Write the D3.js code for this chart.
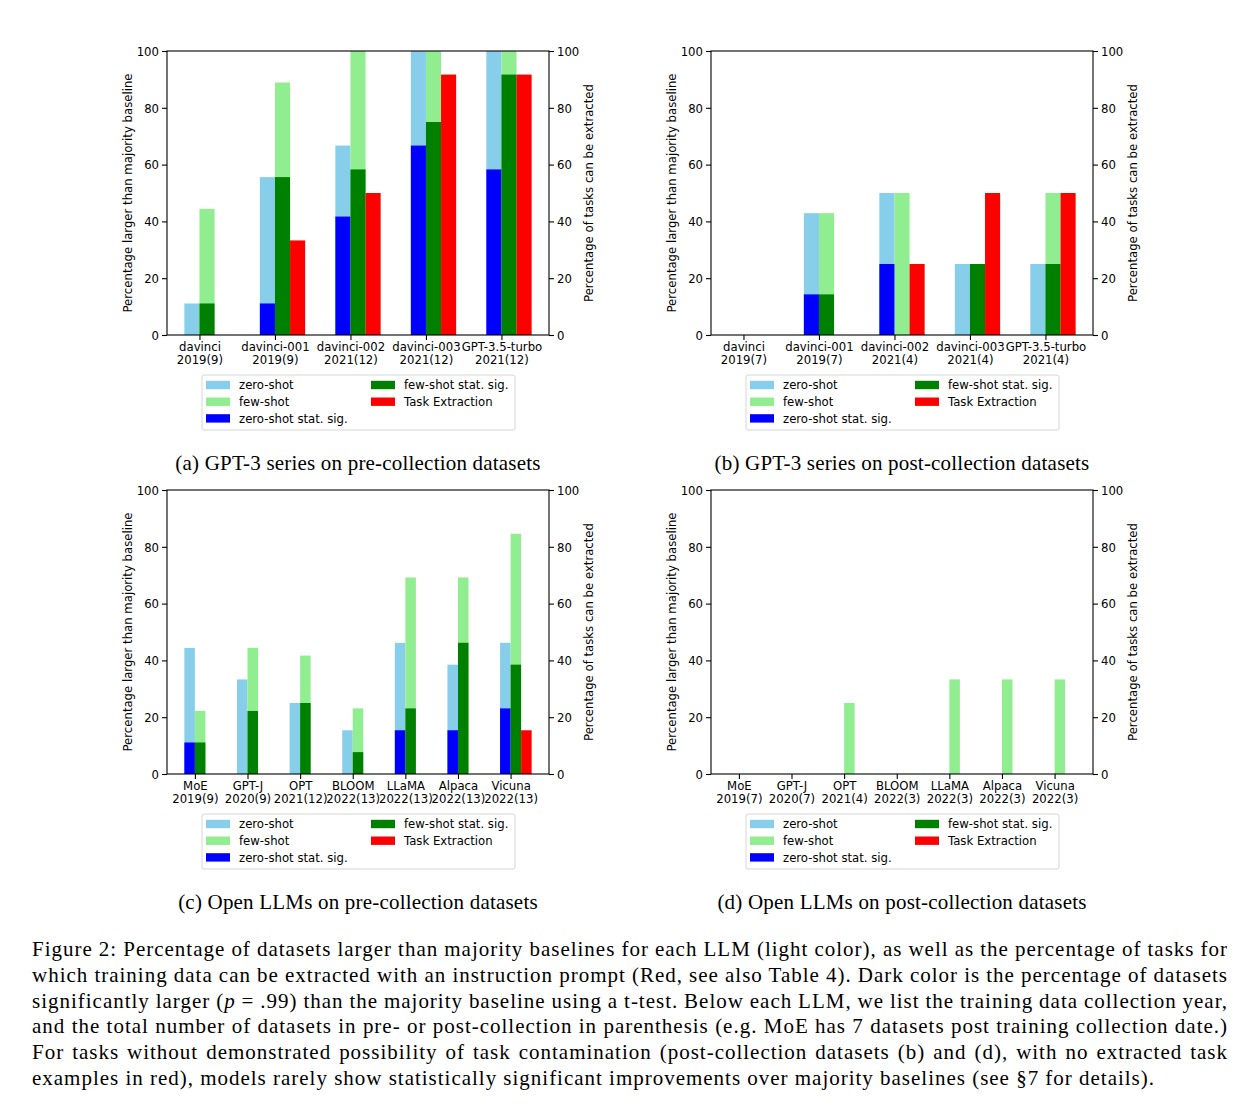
<!DOCTYPE html>
<html>
<head>
<meta charset="utf-8">
<script src="https://cdn.jsdelivr.net/npm/d3@7"></script>
<style>
  body { margin: 0; background: #fff; }
  svg { display: block; }
  .tick text { font-family: 'DejaVu Sans', sans-serif; font-size: 11.7px; fill: #000; }
</style>
</head>
<body>
<svg id="fig" width="1254" height="1116"></svg>
<script>
// models and collection year (number of datasets)
const gptModels = ['davinci', 'davinci-001', 'davinci-002', 'davinci-003', 'GPT-3.5-turbo'];
const gptPreYears = ['2019(9)', '2019(9)', '2021(12)', '2021(12)', '2021(12)'];
const gptPostYears = ['2019(7)', '2019(7)', '2021(4)', '2021(4)', '2021(4)'];
const openModels = ['MoE', 'GPT-J', 'OPT', 'BLOOM', 'LLaMA', 'Alpaca', 'Vicuna'];
const openPreYears = ['2019(9)', '2020(9)', '2021(12)', '2022(13)', '2022(13)', '2022(13)', '2022(13)'];
const openPostYears = ['2019(7)', '2020(7)', '2021(4)', '2022(3)', '2022(3)', '2022(3)', '2022(3)'];

// (a) GPT-3 pre-collection
const aZero = [11.1, 55.6, 66.7, 100, 100];
const aFew = [44.4, 88.9, 100, 100, 100];
const aZeroSig = [0, 11.1, 41.7, 66.7, 58.3];
const aFewSig = [11.1, 55.6, 58.3, 75.0, 91.7];
const aTask = [0, 33.3, 50, 91.7, 91.7];

// (b) GPT-3 post-collection
const bZero = [0, 42.9, 50, 25, 25];
const bFew = [0, 42.9, 50, 25, 50];
const bZeroSig = [0, 14.3, 25, 0, 0];
const bFewSig = [0, 14.3, 0, 25, 25];
const bTask = [0, 0, 25, 50, 50];

// (c) open LLMs pre-collection
const cZero = [44.4, 33.3, 25, 15.4, 46.2, 38.5, 46.2];
const cFew = [22.2, 44.4, 41.7, 23.1, 69.2, 69.2, 84.6];
const cZeroSig = [11.1, 0, 0, 0, 15.4, 15.4, 23.1];
const cFewSig = [11.1, 22.2, 25, 7.7, 23.1, 46.2, 38.5];
const cTask = [0, 0, 0, 0, 0, 0, 15.4];

// (d) open LLMs post-collection
const dZero = [0, 0, 0, 0, 0, 0, 0];
const dFew = [0, 0, 25, 0, 33.3, 33.3, 33.3];
const dZeroSig = [0, 0, 0, 0, 0, 0, 0];
const dFewSig = [0, 0, 0, 0, 0, 0, 0];
const dTask = [0, 0, 0, 0, 0, 0, 0];

const yTicks = [0, 20, 40, 60, 80, 100];
const legendItems = [
  ['zero-shot', '#87ceeb'], ['few-shot', '#90ee90'], ['zero-shot stat. sig.', '#0000ff'],
  ['few-shot stat. sig.', '#008000'], ['Task Extraction', '#ff0000'],
];

const svg = d3.select('#fig');
const plotW = 382;
const plotH = 284;
const barW = 0.2;
const serif = 'Liberation Serif, Times New Roman, serif';

function drawPanel(ox, oy, models, years, zero, few, zeroSig, fewSig, task, caption) {
  const g = svg.append('g').attr('transform', `translate(${ox},${oy})`);
  const n = models.length;
  // matplotlib style 5% margins around the bar extent
  const lo = -barW;
  const hi = n - 1 + 2 * barW;
  const m = 0.05 * (hi - lo);
  const x = d3.scaleLinear().domain([lo - m, hi + m]).range([0, plotW]);
  const y = d3.scaleLinear().domain([0, 100]).range([plotH, 0]);

  const series = [
    [zero, -barW, '#87ceeb'],
    [few, 0, '#90ee90'],
    [zeroSig, -barW, '#0000ff'],
    [fewSig, 0, '#008000'],
    [task, barW, '#ff0000'],
  ];
  series.forEach(([vals, off, color]) => {
    g.append('g').selectAll('rect')
      .data(vals)
      .enter()
      .append('rect')
      .attr('x', (d, i) => x(i + off))
      .attr('width', (d, i) => x(i + off + barW) - x(i + off))
      .attr('y', (d) => y(d))
      .attr('height', (d) => plotH - y(d))
      .attr('fill', color);
  });

  // frame
  g.append('rect')
    .attr('width', plotW).attr('height', plotH)
    .attr('fill', 'none').attr('stroke', '#000').attr('stroke-width', 1.1);

  const yl = g.append('g').call(d3.axisLeft(y).tickValues(yTicks).tickSize(5).tickSizeOuter(0).tickPadding(3));
  const yr = g.append('g').attr('transform', `translate(${plotW},0)`)
    .call(d3.axisRight(y).tickValues(yTicks).tickSize(5).tickSizeOuter(0).tickPadding(3));
  const xa = g.append('g').attr('transform', `translate(0,${plotH})`)
    .call(d3.axisBottom(x).tickValues(d3.range(n)).tickSize(5).tickSizeOuter(0).tickFormat(''));
  [yl, yr, xa].forEach((a) => {
    a.select('.domain').remove();
    a.selectAll('.tick line').attr('stroke', '#000').attr('stroke-width', 1.1);
  });
  yl.selectAll('.tick text').attr('dy', '0.36em');
  yr.selectAll('.tick text').attr('dy', '0.36em');

  xa.selectAll('.tick text').each(function (d) {
    const t = d3.select(this).attr('y', null).attr('dy', null);
    t.append('tspan').attr('x', 0).attr('y', 15.7).text(models[d]);
    t.append('tspan').attr('x', 0).attr('y', 29).text(years[d]);
  });

  g.append('text')
    .attr('transform', `translate(-35.5,${plotH / 2}) rotate(-90)`)
    .attr('text-anchor', 'middle')
    .attr('font-family', 'DejaVu Sans, sans-serif').attr('font-size', '11.7px')
    .text('Percentage larger than majority baseline');
  g.append('text')
    .attr('transform', `translate(${plotW + 43.5},${plotH / 2}) rotate(-90)`)
    .attr('text-anchor', 'middle')
    .attr('font-family', 'DejaVu Sans, sans-serif').attr('font-size', '11.7px')
    .text('Percentage of tasks can be extracted');

  // legend
  const lg = g.append('g').attr('transform', `translate(35,${plotH + 40})`);
  lg.append('rect')
    .attr('width', 313).attr('height', 55).attr('rx', 2)
    .attr('fill', '#fff').attr('stroke', '#d6d6d6');
  legendItems.forEach(([label, color], i) => {
    const col = i < 3 ? 0 : 1;
    const row = i < 3 ? i : i - 3;
    const ex = col === 0 ? 4 : 169;
    const ey = 10 + row * 16.7;
    lg.append('rect').attr('x', ex).attr('y', ey - 4.2).attr('width', 24).attr('height', 8.4).attr('fill', color);
    lg.append('text').attr('x', ex + 33).attr('y', ey).attr('dy', '0.36em')
      .attr('font-family', 'DejaVu Sans, sans-serif').attr('font-size', '11.7px')
      .text(label);
  });

  g.append('text')
    .attr('x', plotW / 2).attr('y', plotH + 135)
    .attr('text-anchor', 'middle')
    .attr('font-family', serif).attr('font-size', '21px').attr('letter-spacing', 0.2)
    .text(caption);
}

drawPanel(167, 51, gptModels, gptPreYears, aZero, aFew, aZeroSig, aFewSig, aTask, '(a) GPT-3 series on pre-collection datasets');
drawPanel(711, 51, gptModels, gptPostYears, bZero, bFew, bZeroSig, bFewSig, bTask, '(b) GPT-3 series on post-collection datasets');
drawPanel(167, 490, openModels, openPreYears, cZero, cFew, cZeroSig, cFewSig, cTask, '(c) Open LLMs on pre-collection datasets');
drawPanel(711, 490, openModels, openPostYears, dZero, dFew, dZeroSig, dFewSig, dTask, '(d) Open LLMs on post-collection datasets');

// figure caption, justified lines
const captionLines = [
  ['Figure 2: Percentage of datasets larger than majority baselines for each LLM (light color), as well as the percentage of tasks for'],
  ['which training data can be extracted with an instruction prompt (Red, see also Table 4). Dark color is the percentage of datasets'],
  ['significantly larger (', 'p', ' = .99) than the majority baseline using a t-test. Below each LLM, we list the training data collection year,'],
  ['and the total number of datasets in pre- or post-collection in parenthesis (e.g. MoE has 7 datasets post training collection date.)'],
  ['For tasks without demonstrated possibility of task contamination (post-collection datasets (b) and (d), with no extracted task'],
  ['examples in red), models rarely show statistically significant improvements over majority baselines (see §7 for details).'],
];
const capLeft = 32;
const capRight = 1228;
const lastLineEnd = 1155;

const capTexts = captionLines.map((parts, li) => {
  const t = svg.append('text')
    .attr('x', capLeft).attr('y', 956 + li * 25.8)
    .attr('font-family', serif).attr('font-size', '21px');
  parts.forEach((p, pi) => {
    t.append('tspan').attr('font-style', pi === 1 ? 'italic' : null).text(p);
  });
  return t;
});

// the last (unjustified) line sets the glyph spacing for all lines
const lastIdx = captionLines.length - 1;
const lastStr = captionLines[lastIdx].join('');
const ls = (lastLineEnd - capLeft - capTexts[lastIdx].node().getComputedTextLength()) / lastStr.length;
capTexts.forEach((t, li) => {
  t.attr('letter-spacing', ls);
  if (li < lastIdx) {
    const len = t.node().getComputedTextLength();
    const spaces = captionLines[li].join('').split(' ').length - 1;
    t.attr('word-spacing', (capRight - capLeft - len) / spaces);
  }
});
</script>
</body>
</html>
